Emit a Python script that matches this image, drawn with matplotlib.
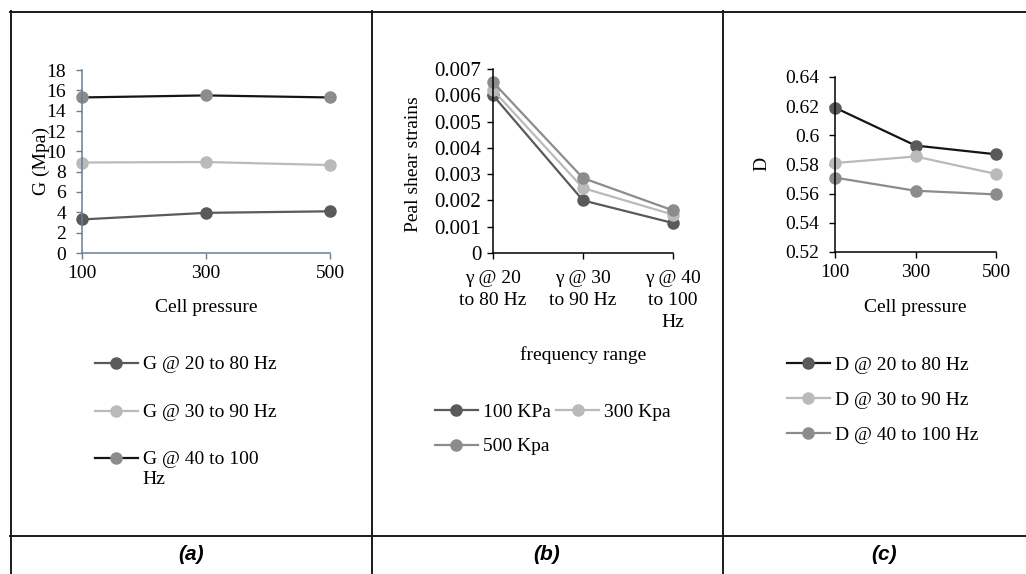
import matplotlib
matplotlib.use("Agg")
import matplotlib.pyplot as plt
from matplotlib.lines import Line2D

plt.rcParams['font.family'] = ['Liberation Serif', 'DejaVu Serif']

# ---- data -------------------------------------------------------------
cell_pressure = [100, 300, 500]

g_labels = ['G @ 20 to 80 Hz', 'G @ 30 to 90 Hz', 'G @ 40 to 100\nHz']
g_20_80 = [3.3, 3.95, 4.1]
g_30_90 = [8.9, 8.95, 8.65]
g_40_100 = [15.3, 15.5, 15.3]

freq_ticks = ['γ @ 20\nto 80 Hz', 'γ @ 30\nto 90 Hz', 'γ @ 40\nto 100\nHz']
strain_labels = ['100 KPa', '300 Kpa', '500 Kpa']
strain_100 = [0.0060, 0.0020, 0.00114]
strain_300 = [0.0062, 0.00247, 0.00146]
strain_500 = [0.0065, 0.00285, 0.00162]

d_labels = ['D @ 20 to 80 Hz', 'D @ 30 to 90 Hz', 'D @ 40 to 100 Hz']
d_20_80 = [0.619, 0.593, 0.587]
d_30_90 = [0.581, 0.5855, 0.5735]
d_40_100 = [0.571, 0.562, 0.5595]

panel_tags = ['(a)', '(b)', '(c)']

# ---- figure -------------------------------------------------------------
W, H = 1026, 574
fig = plt.figure(figsize=(W / 100, H / 100), dpi=100)


def fx(px):
    return px / W


def fy(py):
    return 1 - py / H


def axes_px(left, top, right, bottom):
    return fig.add_axes([fx(left), fy(bottom), fx(right - left), (bottom - top) / H])


DARK = '#5a5a5a'
LIGHT = '#bababa'
MID = '#8c8c8c'
BLACK = '#151515'
FS = 14
LW = 1.6
MS = 8


def style_axes(ax, spine_color, ypad):
    for s in ('top', 'right'):
        ax.spines[s].set_visible(False)
    for s in ('left', 'bottom'):
        ax.spines[s].set_color(spine_color)
        ax.spines[s].set_linewidth(1.1)
    ax.tick_params(axis='both', direction='out', length=4.5, width=1.0,
                   color=spine_color, labelsize=FS)
    ax.tick_params(axis='y', pad=ypad)
    ax.tick_params(axis='x', pad=4)


def series(ax, x, y, line_c, mark_c, label):
    return ax.plot(x, y, color=line_c, lw=LW, marker='o', ms=MS,
                   mfc=mark_c, mec=mark_c, label=label, clip_on=False)[0]


# (a) shear modulus
axa = axes_px(82, 70, 330, 253)
ha = [series(axa, cell_pressure, g_20_80, DARK, DARK, g_labels[0]),
      series(axa, cell_pressure, g_30_90, LIGHT, LIGHT, g_labels[1]),
      series(axa, cell_pressure, g_40_100, BLACK, MID, g_labels[2])]
axa.set_xlim(100, 500)
axa.set_ylim(0, 18)
axa.set_xticks(cell_pressure)
axa.set_yticks(range(0, 19, 2))
style_axes(axa, '#6b7d97', 7)
fig.text(fx(41), fy(161), 'G (Mpa)', rotation=90, ha='center', va='center', fontsize=FS)
fig.text(fx(206), fy(307), 'Cell pressure', ha='center', va='center', fontsize=FS)

# (b) peak shear strain
axb = axes_px(493, 69, 673, 253)
xb = list(range(len(freq_ticks)))
hb = [series(axb, xb, strain_100, DARK, DARK, strain_labels[0]),
      series(axb, xb, strain_300, LIGHT, LIGHT, strain_labels[1]),
      series(axb, xb, strain_500, MID, MID, strain_labels[2])]
axb.set_xlim(0, 2)
axb.set_ylim(0, 0.007)
axb.set_xticks(xb)
axb.set_xticklabels(freq_ticks, linespacing=1.38)
axb.set_yticks([0, 0.001, 0.002, 0.003, 0.004, 0.005, 0.006, 0.007])
axb.set_yticklabels(['0', '0.001', '0.002', '0.003', '0.004', '0.005', '0.006', '0.007'])
style_axes(axb, 'black', 4)
axb.tick_params(axis='x', pad=8)
axb.tick_params(axis='y', labelsize=15)
fig.text(fx(413), fy(164), 'Peal shear strains', rotation=90, ha='center', va='center', fontsize=FS)
fig.text(fx(583), fy(355), 'frequency range', ha='center', va='center', fontsize=FS)

# (c) damping ratio
axc = axes_px(835, 77, 996, 252)
hc = [series(axc, cell_pressure, d_20_80, BLACK, DARK, d_labels[0]),
      series(axc, cell_pressure, d_30_90, LIGHT, LIGHT, d_labels[1]),
      series(axc, cell_pressure, d_40_100, MID, MID, d_labels[2])]
axc.set_xlim(100, 500)
axc.set_ylim(0.52, 0.64)
axc.set_xticks(cell_pressure)
axc.set_yticks([0.52, 0.54, 0.56, 0.58, 0.6, 0.62, 0.64])
axc.set_yticklabels(['0.52', '0.54', '0.56', '0.58', '0.6', '0.62', '0.64'])
style_axes(axc, 'black', 7)
fig.text(fx(762), fy(164), 'D', rotation=90, ha='center', va='center', fontsize=FS)
fig.text(fx(915), fy(307), 'Cell pressure', ha='center', va='center', fontsize=FS)

# legends
common = dict(frameon=False, fontsize=FS, borderpad=0, borderaxespad=0,
              handlelength=2.2, handletextpad=0.25, loc='upper left',
              bbox_transform=fig.transFigure)
leg_a = fig.legend(handles=ha, bbox_to_anchor=(fx(95), fy(356)), labelspacing=1.58, **common)
# column-major fill: 100 / 300 on the first row, 500 below
fig.legend(handles=[hb[0], hb[2], hb[1]], bbox_to_anchor=(fx(435), fy(403)), ncol=2,
           labelspacing=0.88, columnspacing=0.3, **common)
fig.legend(handles=hc, bbox_to_anchor=(fx(787), fy(356)), labelspacing=0.9, **common)

# the wrapped entry keeps its marker on the first text line
try:
    for column in leg_a._legend_handle_box.get_children():
        for row in column.get_children():
            row.align = 'top'
except AttributeError:
    pass

# table frame around the three panels
rules = [((10, 1026), (11.5, 11.5)),
         ((10.5, 10.5), (11, 574)),
         ((371.5, 371.5), (11, 574)),
         ((722.5, 722.5), (11, 574)),
         ((10, 1026), (536, 536))]
for xs, ys in rules:
    fig.add_artist(Line2D([fx(x) for x in xs], [fy(y) for y in ys],
                          color='#1a1a1a', lw=1.4, transform=fig.transFigure))

for tag, cx in zip(panel_tags, [191, 547, 884]):
    fig.text(fx(cx), fy(555), tag, ha='center', va='center', fontsize=15,
             fontweight='bold', fontstyle='italic',
             family=['Liberation Sans Narrow', 'Liberation Sans', 'DejaVu Sans'])

fig.savefig('out.png', dpi=100, facecolor='white')
